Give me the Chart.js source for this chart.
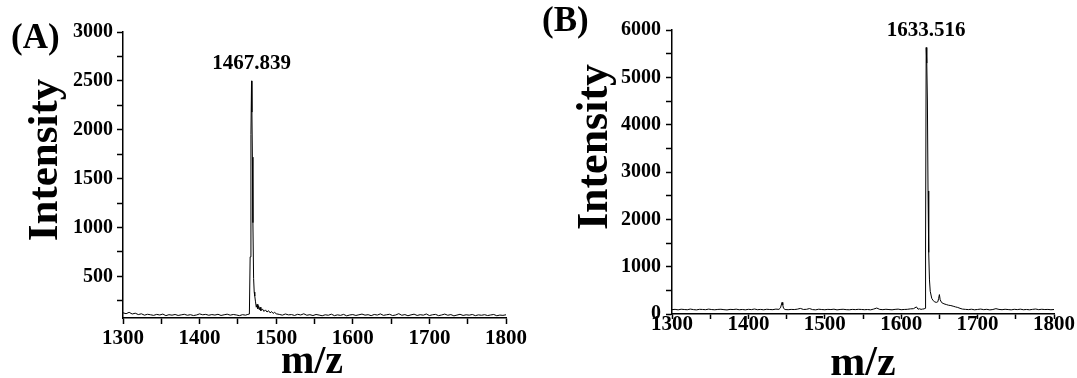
<!DOCTYPE html>
<html>
<head>
<meta charset="utf-8">
<script src="https://cdn.jsdelivr.net/npm/chart.js@4.4.1/dist/chart.umd.min.js"></script>
<style>
  body { margin: 0; background: #fff; }
  .panel { position: absolute; top: 0; height: 378px; }
  #wrapA { left: 0; width: 540px; }
  #wrapB { left: 540px; width: 537px; }
</style>
</head>
<body>
<div class="panel" id="wrapA"><canvas id="chartA"></canvas></div>
<div class="panel" id="wrapB"><canvas id="chartB"></canvas></div>
<script>
// --- datos ---
const xTicks  = [1300, 1350, 1400, 1450, 1500, 1550, 1600, 1650, 1700, 1750, 1800];
const xLabels = [1300, 1400, 1500, 1600, 1700, 1800];
const yTicksA  = [250, 500, 750, 1000, 1250, 1500, 1750, 2000, 2250, 2500, 2750, 3000];
const yLabelsA = [500, 1000, 1500, 2000, 2500, 3000];
const yTicksB  = [0, 500, 1000, 1500, 2000, 2500, 3000, 3500, 4000, 4500, 5000, 5500, 6000];
const yLabelsB = [0, 1000, 2000, 3000, 4000, 5000, 6000];

// (A)
const mzA = [
  1300,1304,1308,1312,1316,1320,1324,1328,1332,1336,
  1340,1344,1348,1352,1356,1360,1364,1368,1372,1376,
  1380,1384,1388,1392,1396,1400,1404,1408,1412,1416,
  1420,1424,1428,1432,1436,1440,1444,1448,1452,1456,
  1460,1463,
  1465.0,1466.0,1467.0,1467.8,1468.3,1468.9,1469.6,1470.5,1471.3,1472.0,
  1473,1474,1475,1476,1477,1478,1479,1480,1482,1484,
  1486,1488,1490,1492,1494,1496,1498,1500,
  1504,1508,1512,1516,1520,1524,1528,1532,1536,1540,
  1544,1548,1552,1556,1560,1564,1568,1572,1576,1580,
  1584,1588,1592,1596,1600,1604,1608,1612,1616,1620,
  1624,1628,1632,1636,1640,1644,1648,1652,1656,1660,
  1664,1668,1672,1676,1680,1684,1688,1692,1696,1700,
  1704,1708,1712,1716,1720,1724,1728,1732,1736,1740,
  1744,1748,1752,1756,1760,1764,1768,1772,1776,1780,
  1784,1788,1792,1796,1800
];
const intA = [
  128,119,133,116,124,110,118,104,113,108,
  102,112,106,115,99,109,104,111,101,107,
  113,103,109,100,106,117,108,112,103,110,
  105,113,101,108,114,104,111,106,99,109,
  104,112,
  115,700,1950,2500,2180,1720,1050,480,340,300,
  240,185,215,170,200,160,185,150,168,142,
  158,136,150,128,140,122,133,118,
  112,104,116,107,110,101,113,106,118,103,
  109,100,111,105,98,108,103,114,99,107,
  102,112,97,106,110,101,108,115,104,109,
  99,111,105,117,102,108,113,100,106,119,
  103,110,98,107,114,101,109,104,116,100,
  108,112,99,106,115,103,110,97,105,113,
  101,108,104,111,99,107,103,109,100,106,
  111,98,105,102,108
];

// (B)
const mzB = [
  1300,1304,1308,1312,1316,1320,1324,1328,1332,1336,
  1340,1344,1348,1352,1356,1360,1364,1368,1372,1376,
  1380,1384,1388,1392,1396,1400,1404,1408,1412,1416,
  1420,1424,1428,1432,1436,
  1440,1442,1444,1445,1446,1448,
  1452,1456,1460,1464,1468,1472,1476,1480,1484,1488,
  1492,1496,1500,1504,1508,1512,1516,1520,1524,1528,
  1532,1536,1540,1544,1548,1552,1556,1560,1564,1568,
  1572,1576,1580,1584,1588,1592,1596,1600,1604,1608,
  1612,1616,
  1620,1622,1624,1626,1628,1630,1631.2,1631.9,1632.7,1633.5,
  1634.3,1635.1,1636,1637,1638,1640,1642,1644,1646,1648,
  1649,1650,1651,1653,1656,1659,1662,1665,1668,1671,
  1674,1677,1680,
  1684,1688,1692,1696,1700,1704,1708,1712,1716,1720,
  1724,1728,1732,1736,1740,1744,1748,1752,1756,1760,
  1764,1768,1772,1776,1780,1784,1788,1792,1796,1800
];
const intB = [
  92,98,88,101,95,90,104,93,87,99,
  96,91,103,94,89,97,100,92,86,98,
  94,102,90,96,88,99,93,105,91,97,
  89,100,95,92,103,
  98,130,245,190,120,95,
  91,97,94,102,118,96,99,115,93,88,
  101,95,90,98,94,102,87,96,100,92,
  89,97,93,99,96,91,95,88,104,126,
  97,92,100,94,89,98,103,91,96,99,
  108,112,
  150,102,110,98,104,108,120,1500,5630,5300,
  4500,2600,1300,720,480,330,280,255,245,260,
  330,410,300,240,215,200,185,178,165,150,
  138,120,104,
  98,93,101,89,96,104,92,99,87,95,
  113,97,91,100,94,88,99,93,102,90,
  96,89,98,105,92,100,94,97,90,95
];

const SERIF = '"Liberation Serif", "Times New Roman", serif';

// textos: letra del panel, titulos de ejes y etiqueta del pico
function textosPlugin(t) {
  return {
    id: 'textos',
    afterDraw(chart) {
      const c = chart.ctx;
      const sx = chart.scales.x, sy = chart.scales.y;
      const vals = chart.data.datasets[0].data;
      let top = vals[0];
      vals.forEach(p => { if (p.y > top.y) top = p; });
      c.save();
      c.fillStyle = '#000';
      c.textBaseline = 'alphabetic';
      c.textAlign = 'left';
      c.font = 'bold ' + t.letterSize + 'px ' + SERIF;
      c.fillText(t.letter, t.letterX, t.letterY);
      c.textAlign = 'center';
      c.font = 'bold 21px ' + SERIF;
      c.fillText(t.peakText, sx.getPixelForValue(top.x), sy.getPixelForValue(top.y) - 12);
      c.font = 'bold ' + t.xTitleSize + 'px ' + SERIF;
      c.fillText('m/z', t.xTitleX, t.xTitleY);
      c.translate(t.yTitleX, t.yTitleY);
      c.rotate(-Math.PI / 2);
      c.font = 'bold ' + t.yTitleSize + 'px ' + SERIF;
      c.fillText('Intensity', 0, 0);
      c.restore();
    }
  };
}

function makeChart(id, mz, inten, o) {
  const pts = mz.map((m, i) => ({ x: m, y: inten[i] }));
  return new Chart(document.getElementById(id), {
    type: 'line',
    data: {
      datasets: [{
        data: pts,
        borderColor: '#000',
        borderWidth: 1,
        pointRadius: 0,
        tension: 0,
        fill: false
      }]
    },
    options: {
      responsive: true,
      maintainAspectRatio: false,
      animation: false,
      parsing: false,
      layout: { padding: { top: o.padTop, right: o.padRight, left: 0, bottom: 0 } },
      plugins: { legend: { display: false }, tooltip: { enabled: false } },
      scales: {
        x: {
          type: 'linear',
          min: 1300,
          max: 1800,
          afterBuildTicks: s => { s.ticks = xTicks.map(v => ({ value: v })); },
          afterFit: s => { s.height = o.xHeight; },
          ticks: {
            autoSkip: false,
            maxRotation: 0,
            padding: o.xPad,
            color: '#000',
            font: { family: SERIF, size: 21, weight: 'bold' },
            callback: v => xLabels.includes(v) ? String(v) : ''
          },
          grid: { drawOnChartArea: false, tickLength: o.xTick, tickWidth: 1.5, tickColor: '#000' },
          border: { color: '#000', width: 1.5 }
        },
        y: {
          min: o.yMin,
          max: o.yMax,
          afterBuildTicks: s => { s.ticks = o.yTicks.map(v => ({ value: v })); },
          afterFit: s => { s.width = o.yWidth; },
          ticks: {
            autoSkip: false,
            padding: o.yPad,
            color: '#000',
            font: { family: SERIF, size: 20, weight: 'bold' },
            callback: v => o.yLabels.includes(v) ? String(v) : ''
          },
          grid: { drawOnChartArea: false, tickLength: 6, tickWidth: 1.5, tickColor: '#000' },
          border: { color: '#000', width: 1.5 }
        }
      }
    },
    plugins: [textosPlugin(o.text)]
  });
}

makeChart('chartA', mzA, intA, {
  yMin: 75, yMax: 3000, yTicks: yTicksA, yLabels: yLabelsA,
  padTop: 32, padRight: 34, yWidth: 123, xHeight: 60,
  xTick: 6, xPad: 2, yPad: 4,
  text: {
    letter: '(A)', letterSize: 35, letterX: 11, letterY: 48,
    peakText: '1467.839',
    xTitleSize: 40, xTitleX: 312, xTitleY: 373,
    yTitleSize: 43, yTitleX: 57, yTitleY: 160
  }
});

makeChart('chartB', mzB, intB, {
  yMin: 0, yMax: 6000, yTicks: yTicksB, yLabels: yLabelsB,
  padTop: 30, padRight: 23, yWidth: 132, xHeight: 64,
  xTick: 5, xPad: -7, yPad: 5,
  text: {
    letter: '(B)', letterSize: 35, letterX: 2, letterY: 31,
    peakText: '1633.516',
    xTitleSize: 42, xTitleX: 323, xTitleY: 375,
    yTitleSize: 44, yTitleX: 67, yTitleY: 147
  }
});
</script>
</body>
</html>
